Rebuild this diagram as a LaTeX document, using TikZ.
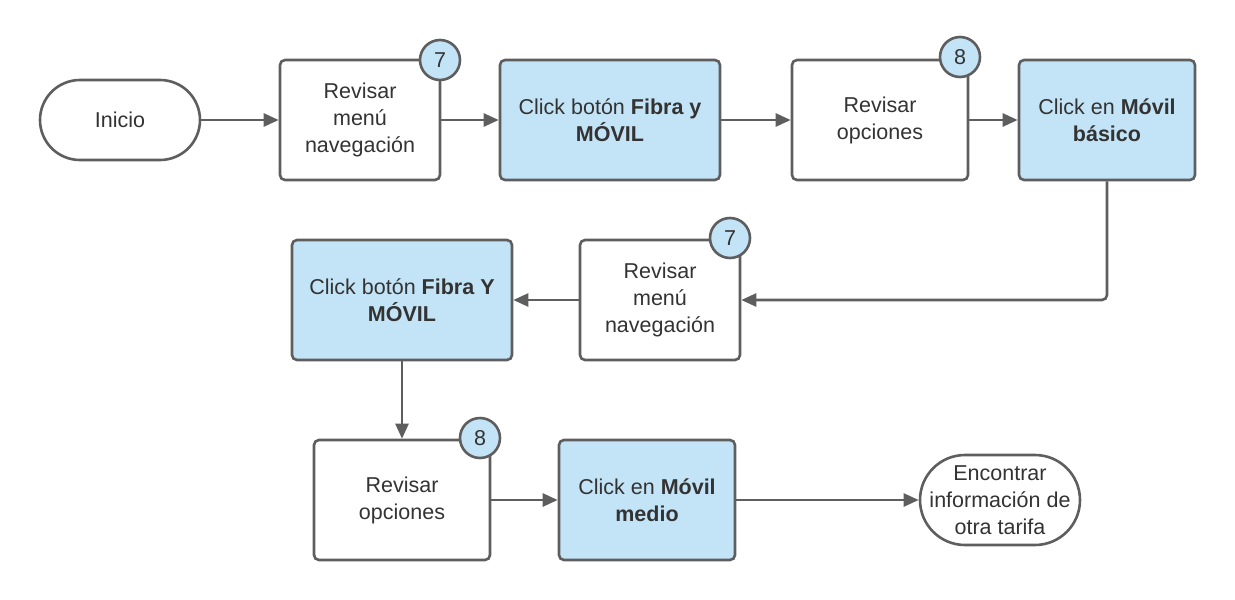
\documentclass[tikz,border=0pt]{standalone}
\usepackage{fontspec}
\setmainfont{Liberation Sans}
\usetikzlibrary{arrows.meta}
\definecolor{linegray}{HTML}{5E5E5E}
\definecolor{textgray}{HTML}{333333}
\definecolor{paleblue}{HTML}{C3E4F6}
\begin{document}
\begin{tikzpicture}[x=1pt,y=-1pt,
    font=\fontsize{21.5}{27}\selectfont, text=textgray,
    every path/.style={draw=linegray, line width=2.6pt},
    stepbox/.style={draw=linegray, fill=white, rounded corners=5pt, inner sep=0pt,
        align=center, minimum width=#1, minimum height=120pt},
    stepbox/.default=160pt,
    clickbox/.style={stepbox=#1, fill=paleblue},
    clickbox/.default=220pt,
    terminal/.style={draw=linegray, fill=white, rectangle, rounded corners=#1/2, inner sep=0pt,
        align=center, minimum width=160pt, minimum height=#1},
    badge/.style={draw=linegray, fill=paleblue, circle, inner sep=0pt, minimum size=40pt},
    flow/.style={-{Triangle[length=15pt,width=13pt]}, rounded corners=5pt}]
    \useasboundingbox[draw=none] (0,0) rectangle (1235,600);

    % Row 1
    \node[terminal=80pt] (inicio) at (120,120) {Inicio};
    \node[stepbox] (menuA) at (360,120) {Revisar\\menú\\navegación};
    \node[clickbox] (fibraA) at (610,120) {Click botón \textbf{Fibra y}\\\textbf{MÓVIL}};
    \node[stepbox=176pt] (opcA) at (880,120) {Revisar\\opciones};
    \node[clickbox=176pt] (basico) at (1107,120) {Click en \textbf{Móvil}\\\textbf{básico}};

    % Row 2
    \node[stepbox] (menuB) at (660,300) {Revisar\\menú\\navegación};
    \node[clickbox] (fibraB) at (402,300) {Click botón \textbf{Fibra Y}\\\textbf{MÓVIL}};

    % Row 3
    \node[stepbox=176pt] (opcB) at (402,500) {Revisar\\opciones};
    \node[clickbox=176pt] (medio) at (647,500) {Click en \textbf{Móvil}\\\textbf{medio}};
    \node[terminal=90pt] (fin) at (1000,500) {Encontrar\\información de\\otra tarifa};

    % Step numbers
    \node[badge] (nA) at (440,60) {7};
    \node[badge] (nB) at (960,57) {8};
    \node[badge] (nC) at (730,238) {7};
    \node[badge] (nD) at (480,438) {8};

    % Connectors
    \draw[flow] (inicio) -- (menuA);
    \draw[flow] (menuA) -- (fibraA);
    \draw[flow] (fibraA) -- (opcA);
    \draw[flow] (opcA) -- (basico);
    \draw[flow] (basico.south) |- (menuB.east);
    \draw[flow] (menuB) -- (fibraB);
    \draw[flow] (fibraB) -- (opcB);
    \draw[flow] (opcB) -- (medio);
    \draw[flow] (medio) -- (fin);
\end{tikzpicture}
\end{document}
